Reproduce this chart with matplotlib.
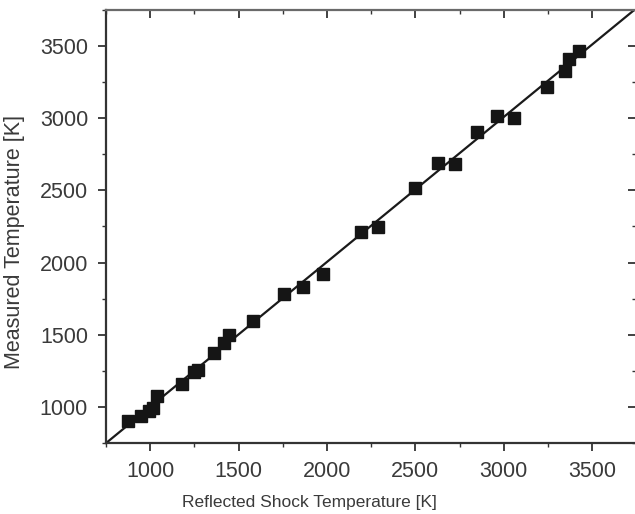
import numpy as np
import matplotlib.pyplot as plt
from matplotlib.ticker import MultipleLocator

# reflected shock temperature vs. measured temperature [K]
t_shock = [877, 945, 995, 1015, 1041, 1182, 1250, 1270, 1360, 1417, 1446,
           1581, 1758, 1865, 1975, 2195, 2286, 2498, 2630, 2726, 2851,
           2960, 3056, 3245, 3347, 3370, 3425]
t_meas = [901, 935, 975, 993, 1074, 1162, 1245, 1255, 1374, 1444, 1500,
          1594, 1779, 1832, 1924, 2211, 2248, 2516, 2691, 2680, 2906,
          3015, 3003, 3218, 3327, 3412, 3465]

lims = (750, 3750)
text_col = '#3a3a3a'

plt.rcParams['font.family'] = ['Liberation Sans', 'DejaVu Sans']

fig = plt.figure(figsize=(6.35, 5.14), dpi=100)
ax = fig.add_axes([0.167, 0.138, 0.835, 0.843])

# linear fit through the data
k, b = np.polyfit(t_shock, t_meas, 1)
xf = np.array(lims, dtype=float)
ax.plot(xf, k * xf + b, color='#1a1a1a', lw=1.6, zorder=2)

ax.plot(t_shock, t_meas, 's', color='#151515', ms=8, zorder=3)

ax.set_xlim(lims)
ax.set_ylim(lims)
ax.xaxis.set_major_locator(MultipleLocator(500))
ax.yaxis.set_major_locator(MultipleLocator(500))
ax.xaxis.set_minor_locator(MultipleLocator(250))
ax.yaxis.set_minor_locator(MultipleLocator(250))

ax.tick_params(which='major', direction='out', length=6, width=1.3,
               labelsize=15.5, labelcolor=text_col, color='#333333', pad=7)
ax.tick_params(which='minor', direction='out', length=3, width=1.0,
               color='#333333')
# top/right get inward ticks only, no labels
for side in ('top', 'right'):
    sec = ax.secondary_xaxis('top') if side == 'top' else ax.secondary_yaxis('right')
    axis = sec.xaxis if side == 'top' else sec.yaxis
    axis.set_major_locator(MultipleLocator(500))
    axis.set_minor_locator(MultipleLocator(250))
    sec.tick_params(which='major', direction='in', length=6, width=1.3,
                    color='#333333', labelleft=False, labelright=False,
                    labeltop=False, labelbottom=False)
    sec.tick_params(which='minor', direction='in', length=3, width=1.0,
                    color='#333333')
    sec.spines[side].set_visible(False)

for s in ax.spines.values():
    s.set_linewidth(1.6)
    s.set_color('#333333')
ax.spines['top'].set_color('#6a6a6a')
ax.spines['right'].set_visible(False)

ax.set_xlabel('Reflected Shock Temperature [K]', fontsize=12.5,
              color=text_col)
ax.xaxis.set_label_coords(0.383, -0.12)
ax.set_ylabel('Measured Temperature [K]', fontsize=15.5, color=text_col)
ax.yaxis.set_label_coords(-0.152, 0.465)

fig.savefig('out.png', dpi=100)
